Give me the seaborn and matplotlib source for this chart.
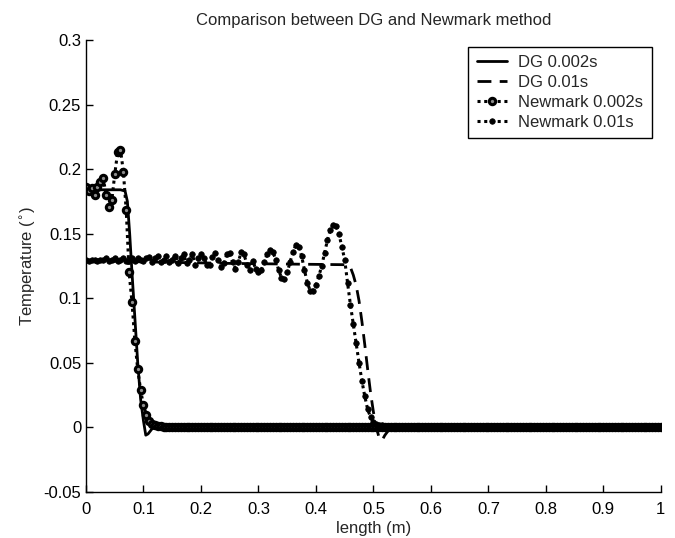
import numpy as np
import matplotlib
matplotlib.use("Agg")
import matplotlib.pyplot as plt
import seaborn as sns

# DG solution curves
dg_002_x = [0, 0.06, 0.068, 0.072, 0.076, 0.08, 0.085, 0.09, 0.095, 0.1, 0.104,
            0.108, 0.115, 0.125, 0.14, 1.0]
dg_002_y = [0.184, 0.184, 0.183, 0.175, 0.15, 0.12, 0.085, 0.05, 0.022, 0.005, -0.006,
            -0.005, -0.001, 0.0, 0.0, 0.0]

dg_01_x = [0, 0.25, 0.45, 0.46, 0.465, 0.47, 0.475, 0.48, 0.485, 0.49, 0.495, 0.50,
           0.505, 0.51, 0.515, 0.52, 0.53, 1.0]
dg_01_y = [0.129, 0.127, 0.126, 0.124, 0.118, 0.110, 0.098, 0.082, 0.064, 0.045, 0.027,
           0.012, 0.000, -0.008, -0.010, -0.006, 0.0, 0.0]

# Newmark nodes, spacing 0.005 over the bar
nm_x = np.linspace(0, 1, 201)

nm_002_front = [0.186, 0.183, 0.185, 0.180, 0.186, 0.190, 0.193, 0.180, 0.171, 0.176,
                0.196, 0.213, 0.215, 0.198, 0.168, 0.120, 0.097, 0.067, 0.045, 0.029,
                0.017, 0.010, 0.005, 0.003, 0.002, 0.001, 0.001]
nm_002_y = nm_002_front + [0.0] * (201 - len(nm_002_front))

nm_01_front = [
    # 0 .. 0.105
    0.130, 0.129, 0.130, 0.130, 0.129, 0.130, 0.130, 0.131, 0.129, 0.130, 0.131,
    0.129, 0.130, 0.131, 0.129, 0.130, 0.131, 0.129, 0.131, 0.130, 0.129, 0.131,
    # 0.11 .. 0.2
    0.132, 0.128, 0.131, 0.133, 0.128, 0.130, 0.133, 0.128, 0.130, 0.133, 0.127,
    0.131, 0.134, 0.127, 0.130, 0.134, 0.126, 0.131, 0.134,
    # 0.205 .. 0.29
    0.131, 0.126, 0.126, 0.132, 0.135, 0.130, 0.124, 0.127, 0.134, 0.135, 0.128,
    0.123, 0.128, 0.136, 0.134, 0.126, 0.122, 0.129,
    # 0.295 .. 0.53
    0.123, 0.120, 0.122, 0.128, 0.134, 0.137, 0.136, 0.130, 0.122, 0.116, 0.115,
    0.120, 0.128, 0.136, 0.141, 0.140, 0.133, 0.122, 0.112, 0.106, 0.106, 0.110,
    0.117, 0.125, 0.135, 0.145, 0.153, 0.157, 0.156, 0.150, 0.140, 0.130, 0.112,
    0.095, 0.080, 0.065, 0.050, 0.036, 0.024, 0.014, 0.008, 0.004, 0.003, 0.002,
    0.002, 0.001, 0.001, 0.000,
]
nm_01_y = nm_01_front + [0.0] * (201 - len(nm_01_front))

sns.set_style("ticks")
plt.rcParams['font.family'] = ['Liberation Sans', 'DejaVu Sans']
plt.rcParams['xtick.direction'] = 'in'
plt.rcParams['ytick.direction'] = 'in'

fig = plt.figure(figsize=(6.75, 5.38), dpi=100)
ax = fig.add_axes([0.1274, 0.0855, 0.8516, 0.8402])

sns.lineplot(x=dg_002_x, y=dg_002_y, ax=ax, color='k', lw=2, sort=False,
             estimator=None, label='DG 0.002s')
sns.lineplot(x=dg_01_x, y=dg_01_y, ax=ax, color='k', lw=2, sort=False,
             estimator=None, label='DG 0.01s', linestyle=(0, (5, 3)))
sns.lineplot(x=nm_x, y=nm_002_y, ax=ax, color='k', lw=2.2, sort=False,
             estimator=None, label='Newmark 0.002s', linestyle=(0, (1, 1.2)),
             marker='o', markersize=4.6, markerfacecolor='0.55',
             markeredgecolor='k', markeredgewidth=2.2)
sns.lineplot(x=nm_x, y=nm_01_y, ax=ax, color='k', lw=2.2, sort=False,
             estimator=None, label='Newmark 0.01s', linestyle=(0, (1, 1.2)),
             marker='o', markersize=4.0, markerfacecolor='k',
             markeredgecolor='k', markeredgewidth=0.5)

ax.set_xlim(0, 1)
ax.set_ylim(-0.05, 0.3)
ax.set_xticks(np.arange(0, 1.01, 0.1))
ax.set_xticklabels(['0', '0.1', '0.2', '0.3', '0.4', '0.5', '0.6', '0.7', '0.8', '0.9', '1'])
ax.set_yticks([-0.05, 0, 0.05, 0.1, 0.15, 0.2, 0.25, 0.3])
ax.set_yticklabels(['-0.05', '0', '0.05', '0.1', '0.15', '0.2', '0.25', '0.3'])
ax.tick_params(labelsize=12, length=5, width=1, colors='k')
ax.tick_params(axis='x', pad=7)
sns.despine(ax=ax)
for s in ['left', 'bottom']:
    ax.spines[s].set_color('k')
    ax.spines[s].set_linewidth(1)

ax.set_xlabel('length (m)', fontsize=12, labelpad=3)
ax.set_ylabel('Temperature ($^{\\circ}$)', fontsize=12, labelpad=4)
ax.set_title('Comparison between DG and Newmark method', fontsize=12, pad=11)

leg = ax.legend(loc='upper right', bbox_to_anchor=(0.984, 0.985), fontsize=12,
                frameon=True, fancybox=False, edgecolor='k', framealpha=1,
                handlelength=1.8, numpoints=1, borderpad=0.5, labelspacing=0.3,
                handletextpad=0.7, borderaxespad=0)
leg.get_frame().set_linewidth(1)

fig.savefig('out.png', dpi=100)
